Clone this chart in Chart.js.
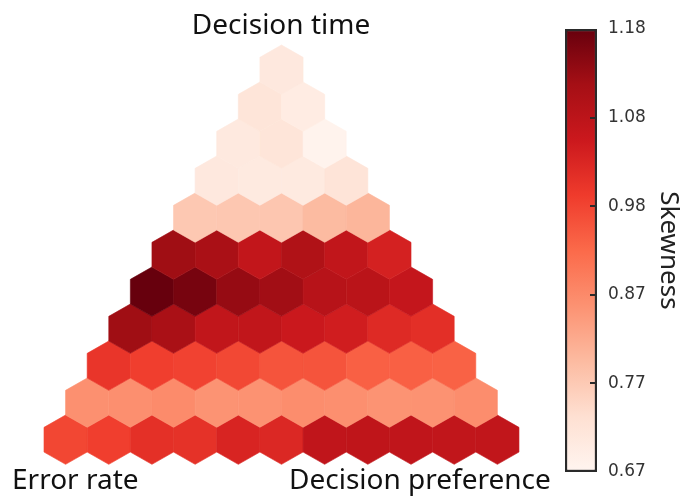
<!DOCTYPE html>
<html>
<head>
<meta charset="utf-8">
<script src="https://cdn.jsdelivr.net/npm/chart.js@4.4.1/dist/chart.umd.min.js"></script>
<style>
  html, body { margin: 0; padding: 0; background: #fff; }
  #wrap { position: relative; width: 684px; height: 496px; overflow: hidden; }
  #tri { position: absolute; left: 0; top: 0; }
  #bar { position: absolute; left: 540px; top: 0; }
</style>
</head>
<body>
<div id="wrap">
  <canvas id="tri" width="684" height="496"></canvas>
  <canvas id="bar" width="144" height="496"></canvas>
</div>
<script>
// Skewness of each cell, one array per row of the triangle.
// Row 0 is the bottom row (11 cells, left to right); row 10 is the apex.
const skewRow0  = [0.973, 0.985, 1.008, 1.006, 1.030, 1.024, 1.071, 1.073, 1.071, 1.069, 1.070];
const skewRow1  = [0.864, 0.866, 0.872, 0.860, 0.861, 0.870, 0.866, 0.860, 0.862, 0.869];
const skewRow2  = [0.999, 0.985, 0.979, 0.971, 0.955, 0.955, 0.938, 0.938, 0.936];
const skewRow3  = [1.121, 1.108, 1.069, 1.069, 1.055, 1.044, 1.019, 1.010];
const skewRow4  = [1.180, 1.164, 1.132, 1.119, 1.086, 1.081, 1.064];
const skewRow5  = [1.121, 1.108, 1.068, 1.098, 1.069, 1.037];
const skewRow6  = [0.775, 0.777, 0.778, 0.798, 0.805];
const skewRow7  = [0.709, 0.703, 0.703, 0.721];
const skewRow8  = [0.706, 0.718, 0.676];
const skewRow9  = [0.718, 0.697];
const skewRow10 = [0.709];
const skewRows = [skewRow0, skewRow1, skewRow2, skewRow3, skewRow4, skewRow5,
                  skewRow6, skewRow7, skewRow8, skewRow9, skewRow10];

// Colour scale range and colour bar ticks
const skewMin = 0.67;
const skewMax = 1.18;
const colorTicks = [0.67, 0.772, 0.874, 0.976, 1.078, 1.18];

// Corner labels of the triangle
const labelLeft = 'Error rate';
const labelRight = 'Decision preference';
const labelTop = 'Decision time';
const colorTitle = 'Skewness';

// Sequential "Reds" colour map (ColorBrewer anchors, low to high)
const REDS = [[255,245,240],[254,224,210],[252,187,161],[252,146,114],[251,106,74],
              [239,59,44],[203,24,29],[165,15,21],[103,0,13]];
function redsAt(t) {
  t = Math.max(0, Math.min(1, t));
  const p = t * (REDS.length - 1);
  const i = Math.min(Math.floor(p), REDS.length - 2);
  const f = p - i;
  const a = REDS[i], b = REDS[i + 1];
  const c = a.map((v, k) => Math.round(v + (b[k] - v) * f));
  return `rgb(${c[0]},${c[1]},${c[2]})`;
}
function skewColor(v) { return redsAt((v - skewMin) / (skewMax - skewMin)); }

// Cell centres in lattice units: x shifts half a cell per row, y is the row index
const cells = [];
skewRows.forEach((row, r) => row.forEach((v, i) => cells.push({ x: i + r / 2, y: r, v })));

// Draws each point of the scatter dataset as a pointy-top hexagon that tiles the lattice
const hexPlugin = {
  id: 'hexCells',
  afterDatasetsDraw(chart) {
    const ctx = chart.ctx;
    const xs = chart.scales.x, ys = chart.scales.y;
    const hw = (xs.getPixelForValue(1) - xs.getPixelForValue(0)) / 2;
    const rv = (ys.getPixelForValue(0) - ys.getPixelForValue(1)) / 1.5;
    const meta = chart.getDatasetMeta(0);
    const colors = chart.data.datasets[0].backgroundColor;
    ctx.save();
    meta.data.forEach((el, k) => {
      const { x, y } = el.getProps(['x', 'y'], true);
      ctx.beginPath();
      ctx.moveTo(x, y - rv);
      ctx.lineTo(x + hw, y - rv / 2);
      ctx.lineTo(x + hw, y + rv / 2);
      ctx.lineTo(x, y + rv);
      ctx.lineTo(x - hw, y + rv / 2);
      ctx.lineTo(x - hw, y - rv / 2);
      ctx.closePath();
      ctx.fillStyle = colors[k];
      ctx.fill();
      ctx.strokeStyle = colors[k];
      ctx.lineWidth = 0.6;
      ctx.stroke();
    });
    ctx.restore();
  }
};

// Axis names placed at the three corners of the triangle
const cornerLabelPlugin = {
  id: 'cornerLabels',
  afterDraw(chart) {
    const ctx = chart.ctx;
    ctx.save();
    ctx.fillStyle = '#111';
    ctx.font = '28px "Noto Sans"';
    ctx.textBaseline = 'alphabetic';
    ctx.textAlign = 'center';
    ctx.fillText(labelTop, 281, 34);
    ctx.textAlign = 'left';
    ctx.fillText(labelLeft, 12, 489);
    ctx.fillText(labelRight, 289, 489);
    ctx.restore();
  }
};

new Chart(document.getElementById('tri'), {
  type: 'scatter',
  data: {
    datasets: [{
      data: cells,
      pointRadius: 0,
      pointHoverRadius: 0,
      backgroundColor: cells.map(c => skewColor(c.v))
    }]
  },
  options: {
    responsive: false,
    animation: false,
    devicePixelRatio: 1,
    events: [],
    layout: { padding: 0 },
    plugins: { legend: { display: false }, tooltip: { enabled: false } },
    scales: {
      x: { type: 'linear', display: false, min: -1.519, max: 14.322 },
      y: { type: 'linear', display: false, min: -1.5216, max: 11.8838 }
    }
  },
  plugins: [hexPlugin, cornerLabelPlugin]
});

// Short inward tick marks on the right edge of the colour bar
const barTickPlugin = {
  id: 'barTicks',
  afterDatasetsDraw(chart) {
    const ctx = chart.ctx;
    const a = chart.chartArea;
    const ys = chart.scales.y;
    ctx.save();
    ctx.strokeStyle = '#2a2a2a';
    ctx.lineWidth = 2;
    colorTicks.slice(1, -1).forEach(v => {
      const y = Math.round(ys.getPixelForValue(v));
      ctx.beginPath();
      ctx.moveTo(a.right - 7, y);
      ctx.lineTo(a.right, y);
      ctx.stroke();
    });
    ctx.restore();
  }
};

new Chart(document.getElementById('bar'), {
  type: 'bar',
  data: {
    labels: [''],
    datasets: [{
      data: [[skewMin, skewMax]],
      backgroundColor: (c) => {
        const a = c.chart.chartArea;
        if (!a) return null;
        const g = c.chart.ctx.createLinearGradient(0, a.bottom, 0, a.top);
        REDS.forEach((col, i) => g.addColorStop(i / (REDS.length - 1), `rgb(${col[0]},${col[1]},${col[2]})`));
        return g;
      },
      borderColor: '#2a2a2a',
      borderWidth: 2.5,
      borderSkipped: false,
      barPercentage: 1,
      categoryPercentage: 1
    }]
  },
  options: {
    responsive: false,
    animation: false,
    devicePixelRatio: 1,
    events: [],
    layout: { padding: { left: 25, top: 29, bottom: 24, right: 0 } },
    plugins: { legend: { display: false }, tooltip: { enabled: false } },
    scales: {
      x: { display: false },
      y: {
        position: 'right',
        min: skewMin,
        max: skewMax,
        afterBuildTicks: (s) => { s.ticks = colorTicks.map(v => ({ value: v })); },
        afterFit: (s) => { s.width = 87; },
        grid: { display: false, drawTicks: false },
        border: { display: false },
        ticks: {
          padding: 11,
          color: '#333',
          font: { family: 'DejaVu Sans', size: 17 },
          callback: (v) => Number(v).toFixed(2)
        },
        title: {
          display: true,
          text: colorTitle,
          color: '#222',
          font: { family: 'Noto Sans', size: 26 },
          padding: { top: 0, bottom: 0 }
        }
      }
    }
  },
  plugins: [barTickPlugin]
});
</script>
</body>
</html>
